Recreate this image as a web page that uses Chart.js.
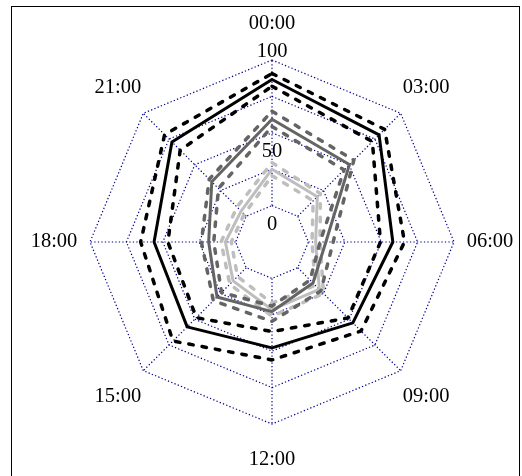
<!DOCTYPE html>
<html>
<head>
<meta charset="utf-8">
<script src="https://cdn.jsdelivr.net/npm/chart.js@4/dist/chart.umd.min.js"></script>
<style>
  html, body { margin: 0; padding: 0; background: #fff; overflow: hidden; }
  #wrap { position: relative; width: 522px; height: 476px; }
  #frame { position: absolute; left: 11px; top: 6px; width: 509px; height: 520px; border: 1px solid #000; box-sizing: border-box; pointer-events: none; }
  canvas { position: absolute; left: 0; top: 0; }
</style>
</head>
<body>
<div id="wrap">
  <canvas id="c" width="522" height="476"></canvas>
  <div id="frame"></div>
</div>
<script>
// Hours of the day, clockwise from the top
const hours = ['00:00', '03:00', '06:00', '09:00', '12:00', '15:00', '18:00', '21:00'];

// Value labels shown along the vertical spoke
const valueLabels = [0, 50, 100];

// Group A (black): mean with upper / lower band
const groupAMean  = [86.6, 79.0, 58.0, 53.5, 47.7, 57.4, 56.0, 72.2];
const groupAUpper = [90.7, 84.4, 66.0, 61.5, 56.0, 71.2, 65.2, 79.3];
const groupALower = [82.0, 72.5, 49.5, 48.8, 36.5, 48.5, 46.5, 64.2];

// Group B (dark grey)
const groupBMean  = [59.3, 50.2, 12.0, 14.8, 22.8, 28.4, 18.5, 33.5];
const groupBUpper = [64.8, 54.5, 17.0, 22.5, 29.5, 32.0, 23.5, 36.0];
const groupBLower = [54.3, 45.0, 8.0, 12.0, 19.0, 24.0, 15.0, 27.0];

// Group C (light grey)
const groupCMean  = [25.0, 19.0, 5.0, 21.0, 21.5, 12.8, 7.0, 5.0];
const groupCUpper = [29.5, 22.0, 8.0, 25.0, 26.0, 16.0, 10.0, 9.0];
const groupCLower = [20.5, 15.0, 2.5, 17.0, 17.0, 8.5, 3.0, 2.0];

const NAVY = '#00008b';
const BLACK = '#000000';
const DARK = '#646464';
const LIGHT = '#bebebe';
const SERIF = '"Liberation Serif", "Times New Roman", serif';
const DOTS = [1.3, 2.2];

function solid(data, color) {
  return { data, borderColor: color, borderWidth: 3, fill: false, pointRadius: 0,
           borderJoinStyle: 'round', borderCapStyle: 'round', tension: 0 };
}
function dashed(data, color) {
  return { data, borderColor: color, borderWidth: 3.5, borderDash: [4.5, 9], fill: false,
           pointRadius: 0, borderJoinStyle: 'round', borderCapStyle: 'round', tension: 0 };
}

// Spokes start at the innermost ring; hour and value labels are placed on the radial scale
const radarDecor = {
  id: 'radarDecor',
  beforeDatasetsDraw(chart) {
    const s = chart.scales.r;
    const ctx = chart.ctx;
    const inner = s.getDistanceFromCenterForValue(s.min + 25);
    const outer = s.getDistanceFromCenterForValue(s.max);
    ctx.save();
    ctx.strokeStyle = NAVY;
    ctx.lineWidth = 1.2;
    ctx.setLineDash(DOTS);
    for (let i = 0; i < hours.length; i++) {
      const a = s.getPointPosition(i, inner);
      const b = s.getPointPosition(i, outer);
      ctx.beginPath();
      ctx.moveTo(a.x, a.y);
      ctx.lineTo(b.x, b.y);
      ctx.stroke();
    }
    ctx.restore();
  },
  afterDraw(chart) {
    const s = chart.scales.r;
    const ctx = chart.ctx;
    ctx.save();
    ctx.fillStyle = '#000';
    ctx.font = '20.5px ' + SERIF;
    ctx.textAlign = 'center';
    ctx.textBaseline = 'middle';
    hours.forEach((h, i) => {
      const p = s.getPointPosition(i, s.drawingArea + 36);
      ctx.fillText(h, p.x, p.y);
    });
    // value labels sit just inside the ring, the top one just outside it
    valueLabels.forEach(v => {
      const p = s.getPointPosition(0, s.getDistanceFromCenterForValue(v));
      const shift = v === s.max ? -8 : 19;
      ctx.fillText(String(v), p.x, p.y + shift);
    });
    ctx.restore();
  }
};

new Chart(document.getElementById('c'), {
  type: 'radar',
  data: {
    labels: hours,
    datasets: [
      solid(groupAMean, BLACK),
      dashed(groupAUpper, BLACK),
      dashed(groupALower, BLACK),
      solid(groupBMean, DARK),
      dashed(groupBUpper, DARK),
      dashed(groupBLower, DARK),
      solid(groupCMean, LIGHT),
      dashed(groupCUpper, LIGHT),
      dashed(groupCLower, LIGHT)
    ]
  },
  options: {
    responsive: false,
    animation: false,
    layout: { padding: { left: 90, top: 60, right: 68, bottom: 52 } },
    plugins: { legend: { display: false }, tooltip: { enabled: false } },
    scales: {
      r: {
        min: -25,
        max: 100,
        beginAtZero: false,
        ticks: { stepSize: 25, display: false },
        grid: {
          color: c => (c.tick && c.tick.value <= -25) ? 'rgba(0,0,0,0)' : NAVY,
          lineWidth: 1.2
        },
        border: { dash: DOTS },
        angleLines: { display: false },
        pointLabels: { display: false }
      }
    }
  },
  plugins: [radarDecor]
});
</script>
</body>
</html>
